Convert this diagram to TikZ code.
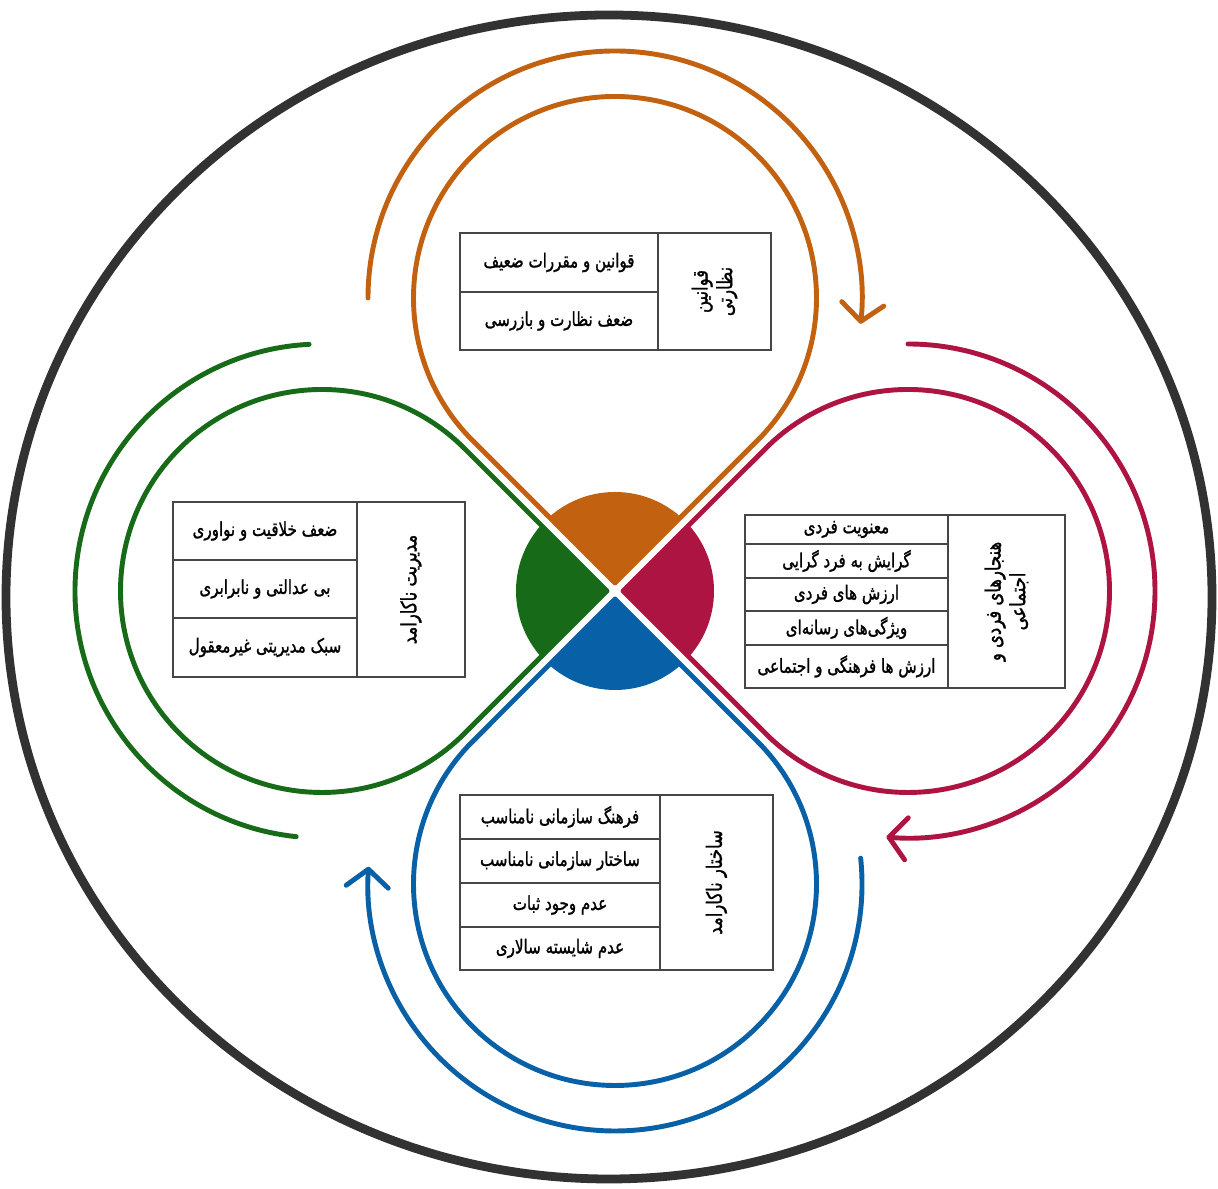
\documentclass[tikz,border=0pt]{standalone}
\usepackage{fontspec}
\newfontfamily\pfont[Script=Arabic, FakeStretch=0.78, FakeBold=1.2]{DejaVu Sans}
\TeXXeTstate=1
\usepackage{tikz}
\usetikzlibrary{arrows.meta,positioning,calc}
\definecolor{lporange}{RGB}{194,98,16}
\definecolor{lpred}{RGB}{174,20,66}
\definecolor{lpblue}{RGB}{8,96,166}
\definecolor{lpgreen}{RGB}{22,106,24}
\definecolor{lpgray}{RGB}{50,50,50}
\definecolor{lpframe}{RGB}{70,70,70}
\newcommand{\rtl}[1]{\beginR #1\endR}
\tikzset{
  petal/.style={line width=2.8pt, line cap=round, line join=round},
  cycarrow/.style={petal, -{Straight Barb[length=10pt, width=24pt, round]}},
  cell/.style={draw=lpframe, line width=0.8pt, outer sep=0pt, inner sep=0pt, font=\pfont\fontsize{11}{13}\selectfont},
  celltitle/.style={rotate=90, align=center, inner sep=0pt, font=\pfont\fontsize{12}{14}\selectfont}
}

\begin{document}
\begin{tikzpicture}[x=0.02cm, y=0.02cm]
  \useasboundingbox (0,0) rectangle (1218,1189);

  % Outer frame
  \draw[lpgray, line width=5pt] (609,592) ellipse [x radius=603, y radius=582];

  % Centre and loop centres
  \coordinate (C) at (615,598);
  \coordinate (To) at (615,606);  \coordinate (Po) at (615,891);
  \coordinate (Tr) at (623,598);  \coordinate (Pr) at (908,598);
  \coordinate (Tb) at (615,590);  \coordinate (Pb) at (615,305);
  \coordinate (Tg) at (607,598);  \coordinate (Pg) at (322,598);

  % Centre disc, four quarters
  \begin{scope}
    \clip (To) -- ++(45:150) -- ++(135:150) -- ++(225:150) -- cycle;
    \fill[lporange] (C) circle [radius=99];
  \end{scope}
  \begin{scope}
    \clip (Tr) -- ++(-45:150) -- ++(45:150) -- ++(135:150) -- cycle;
    \fill[lpred] (C) circle [radius=99];
  \end{scope}
  \begin{scope}
    \clip (Tb) -- ++(225:150) -- ++(315:150) -- ++(45:150) -- cycle;
    \fill[lpblue] (C) circle [radius=99];
  \end{scope}
  \begin{scope}
    \clip (Tg) -- ++(135:150) -- ++(225:150) -- ++(315:150) -- cycle;
    \fill[lpgreen] (C) circle [radius=99];
  \end{scope}

  % Inner loops
  \draw[petal, lporange] (To) -- ($(Po)+(-45:201.5)$) arc [start angle=-45, end angle=225, radius=201.5] -- cycle;
  \draw[petal, lpred] (Tr) -- ($(Pr)+(-135:201.5)$) arc [start angle=-135, end angle=135, radius=201.5] -- cycle;
  \draw[petal, lpblue] (Tb) -- ($(Pb)+(135:201.5)$) arc [start angle=135, end angle=405, radius=201.5] -- cycle;
  \draw[petal, lpgreen] (Tg) -- ($(Pg)+(45:201.5)$) arc [start angle=45, end angle=315, radius=201.5] -- cycle;

  % Outer arcs
  \draw[cycarrow, lporange] ($(Po)+(180:247)$) arc [start angle=180, end angle=-6, radius=247];
  \draw[cycarrow, lpred] ($(Pr)+(90:247)$) arc [start angle=90, end angle=-95, radius=247];
  \draw[cycarrow, lpblue] ($(Pb)+(6:247)$) arc [start angle=6, end angle=-184, radius=247];
  \draw[petal, lpgreen] ($(Pg)+(264:247)$) arc [start angle=264, end angle=93, radius=247];

  % Top table
  \node[cell, minimum width=3.96cm, minimum height=1.18cm, anchor=north west] (o1) at (460,956) {\rtl{قوانین و مقررات ضعیف}};
  \node[cell, minimum width=3.96cm, minimum height=1.16cm, below=0pt of o1] (o2) {\rtl{ضعف نظارت و بازرسی}};
  \node[cell, minimum width=2.26cm, minimum height=2.34cm, anchor=north west] (otitle) at (o1.north east) {};
  \node[celltitle] (otext) at (otitle) {\rtl{قوانین}\\\rtl{نظارتی}};

  % Right table
  \node[cell, minimum width=4.06cm, minimum height=0.58cm, anchor=north west] (r1) at (745,674) {\rtl{معنویت فردی}};
  \node[cell, minimum width=4.06cm, minimum height=0.68cm, below=0pt of r1] (r2) {\rtl{گرایش به فرد گرایی}};
  \node[cell, minimum width=4.06cm, minimum height=0.66cm, below=0pt of r2] (r3) {\rtl{ارزش های  فردی}};
  \node[cell, minimum width=4.06cm, minimum height=0.68cm, below=0pt of r3] (r4) {\rtl{ویژگی‌های رسانه‌ای}};
  \node[cell, minimum width=4.06cm, minimum height=0.86cm, below=0pt of r4] (r5) {\rtl{ارزش ها فرهنگی و اجتماعی}};
  \node[cell, minimum width=2.34cm, minimum height=3.46cm, anchor=north west] (rtitle) at (r1.north east) {};
  \node[celltitle] (rtext) at (rtitle) {\rtl{هنجارهای فردی و}\\\rtl{اجتماعی}};

  % Left table
  \node[cell, minimum width=3.68cm, minimum height=1.16cm, anchor=north west] (g1) at (173,687) {\rtl{ضعف خلاقیت و نواوری}};
  \node[cell, minimum width=3.68cm, minimum height=1.16cm, below=0pt of g1] (g2) {\rtl{بی عدالتی و نابرابری}};
  \node[cell, minimum width=3.68cm, minimum height=1.18cm, below=0pt of g2] (g3) {\rtl{سبک مدیریتی غیرمعقول}};
  \node[cell, minimum width=2.16cm, minimum height=3.5cm, anchor=north west] (gtitle) at (g1.north east) {};
  \node[celltitle] (gtext) at (gtitle) {\rtl{مدیریت ناکارامد}};

  % Bottom table
  \node[cell, minimum width=4.0cm, minimum height=0.88cm, anchor=north west] (b1) at (460,394) {\rtl{فرهنگ سازمانی نامناسب}};
  \node[cell, minimum width=4.0cm, minimum height=0.88cm, below=0pt of b1] (b2) {\rtl{ساختار سازمانی نامناسب}};
  \node[cell, minimum width=4.0cm, minimum height=0.88cm, below=0pt of b2] (b3) {\rtl{عدم وجود ثبات}};
  \node[cell, minimum width=4.0cm, minimum height=0.86cm, below=0pt of b3] (b4) {\rtl{عدم شایسته سالاری}};
  \node[cell, minimum width=2.26cm, minimum height=3.5cm, anchor=north west] (btitle) at (b1.north east) {};
  \node[celltitle] (btext) at (btitle) {\rtl{ساختار ناکارامد}};
\end{tikzpicture}
\end{document}
